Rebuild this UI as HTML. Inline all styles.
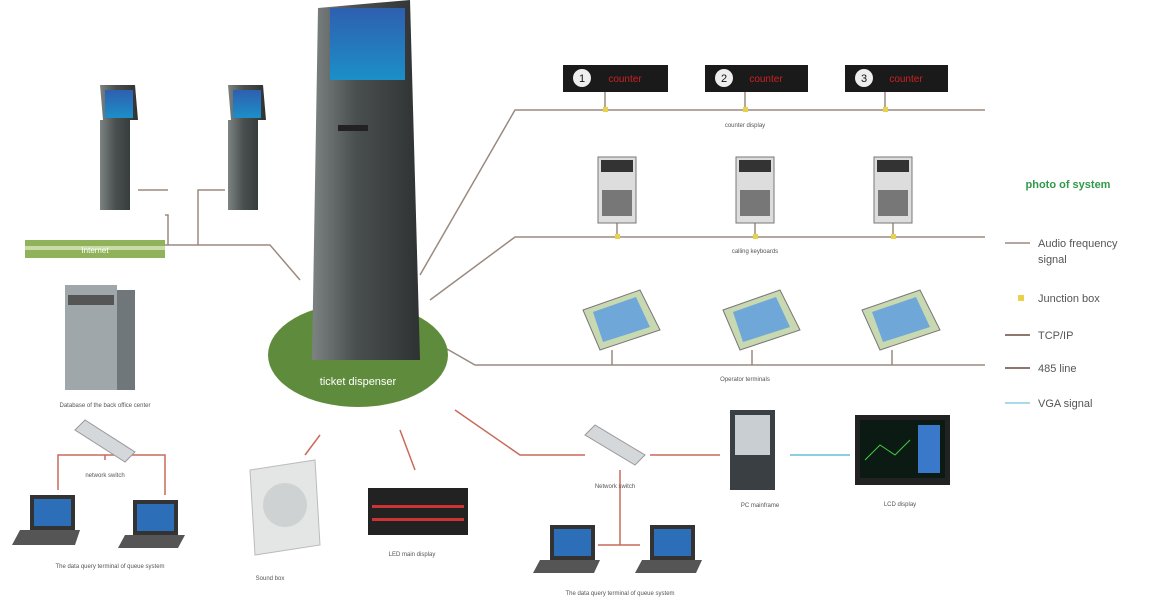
<!DOCTYPE html>
<html><head><meta charset="utf-8"><style>
body{margin:0;background:#fff;width:1151px;height:600px;overflow:hidden;font-family:"Liberation Sans",sans-serif}
svg text{font-family:"Liberation Sans",sans-serif}
</style></head><body>
<svg width="1151" height="600" viewBox="0 0 1151 600">
<defs>
<linearGradient id="k" x1="0" x2="1"><stop offset="0" stop-color="#7d8283"/><stop offset=".4" stop-color="#4a4f50"/><stop offset="1" stop-color="#2e3233"/></linearGradient>
<linearGradient id="scr" x1="0" y1="0" x2="0" y2="1"><stop offset="0" stop-color="#2f5fb0"/><stop offset="1" stop-color="#1b8fc8"/></linearGradient>
</defs>
<!-- lines -->
<g stroke="#9a8a80" stroke-width="1.5" fill="none">
<path d="M165 215 H168 V245 M198 245 V190 H225"/>
<path d="M138 190 H168 M165 245 H270 L300 280"/>
<path d="M420 275 L515 110 H985"/>
<path d="M430 300 L515 237 H985"/>
<path d="M440 345 L475 365 H985"/>
</g>
<g stroke="#c96a5a" stroke-width="1.5" fill="none">
<path d="M455 410 L520 455 H585"/><path d="M650 455 H720"/>
<path d="M620 470 V545 M598 545 H640"/>
<path d="M400 430 L415 470 M320 435 L305 455"/>
<path d="M105 460 V455 H58 V490 M105 455 H165 V495"/>
</g>
<path d="M790 455 H850" stroke="#8ccfe0" stroke-width="2"/>
<g stroke="#9a8a80" stroke-width="1.5"><path d="M605 92 V110 M745 92 V110 M885 92 V110 M617 223 V237 M755 223 V237 M893 223 V237 M612 350 V365 M752 350 V365 M892 350 V365"/></g>
<g fill="#e8d24a"><rect x="603" y="107" width="5" height="5"/><rect x="743" y="107" width="5" height="5"/><rect x="883" y="107" width="5" height="5"/><rect x="615" y="234" width="5" height="5"/><rect x="753" y="234" width="5" height="5"/><rect x="891" y="234" width="5" height="5"/></g>
<!-- internet bar -->
<rect x="25" y="240" width="140" height="18" fill="#8fb25a"/><rect x="25" y="246" width="140" height="4" fill="#c9dca8"/>
<text x="95" y="253" font-size="8" fill="#fff" text-anchor="middle">Internet</text>
<!-- ellipse -->
<ellipse cx="358" cy="355" rx="90" ry="52" fill="#5e8c3c"/>
<!-- big kiosk -->
<path d="M318 8 L410 0 L420 360 L312 360 Z" fill="url(#k)"/>
<rect x="330" y="8" width="75" height="72" fill="url(#scr)"/>
<rect x="338" y="125" width="30" height="6" fill="#222"/>
<text x="358" y="385" font-size="11" fill="#fff" text-anchor="middle">ticket dispenser</text>
<!-- small kiosks -->
<g fill="url(#k)"><path d="M100 85 H135 L138 120 H130 V210 H100 V120 H103 Z"/><path d="M228 85 H263 L266 120 H258 V210 H228 V120 H231 Z"/></g>
<rect x="105" y="90" width="28" height="28" fill="url(#scr)"/><rect x="233" y="90" width="28" height="28" fill="url(#scr)"/>
<!-- server -->
<rect x="65" y="285" width="52" height="105" fill="#9fa7ab"/><rect x="117" y="290" width="18" height="100" fill="#6f777b"/><rect x="68" y="295" width="46" height="10" fill="#555"/>
<text x="105" y="407" font-size="6" fill="#555" text-anchor="middle">Database of the back office center</text>
<!-- switch -->
<path d="M75 430 L85 420 L135 452 L125 462 Z" fill="#d5d8da" stroke="#999"/>
<text x="105" y="477" font-size="6" fill="#555" text-anchor="middle">network switch</text>
<!-- laptops -->
<g>
<rect x="30" y="495" width="45" height="35" fill="#333"/><rect x="34" y="499" width="37" height="27" fill="#2c6fb8"/><path d="M20 530 H80 L75 545 H12 Z" fill="#555"/>
<rect x="133" y="500" width="45" height="35" fill="#333"/><rect x="137" y="504" width="37" height="27" fill="#2c6fb8"/><path d="M125 535 H185 L178 548 H118 Z" fill="#555"/>
<rect x="550" y="525" width="45" height="35" fill="#333"/><rect x="554" y="529" width="37" height="27" fill="#2c6fb8"/><path d="M540 560 H600 L594 573 H533 Z" fill="#555"/>
<rect x="650" y="525" width="45" height="35" fill="#333"/><rect x="654" y="529" width="37" height="27" fill="#2c6fb8"/><path d="M642 560 H702 L696 573 H635 Z" fill="#555"/>
</g>
<text x="110" y="568" font-size="6" fill="#555" text-anchor="middle">The data query terminal of queue system</text>
<text x="620" y="595" font-size="6" fill="#555" text-anchor="middle">The data query terminal of queue system</text>
<!-- speaker -->
<path d="M250 470 L315 460 L320 545 L255 555 Z" fill="#e4e6e6" stroke="#bbb"/><circle cx="285" cy="505" r="22" fill="#cfd2d2"/>
<text x="270" y="580" font-size="6" fill="#555" text-anchor="middle">Sound box</text>
<!-- led -->
<rect x="368" y="488" width="100" height="47" fill="#222"/><rect x="372" y="505" width="92" height="3" fill="#c33"/><rect x="372" y="518" width="92" height="3" fill="#c33"/>
<text x="412" y="556" font-size="6" fill="#555" text-anchor="middle">LED main display</text>
<!-- top displays -->
<g>
<rect x="563" y="65" width="105" height="27" fill="#1a1a1a"/><circle cx="582" cy="78" r="9" fill="#eee"/><text x="582" y="82" font-size="11" text-anchor="middle" fill="#111">1</text><text x="625" y="82" font-size="10" fill="#c22" text-anchor="middle">counter</text>
<rect x="705" y="65" width="103" height="27" fill="#1a1a1a"/><circle cx="724" cy="78" r="9" fill="#eee"/><text x="724" y="82" font-size="11" text-anchor="middle" fill="#111">2</text><text x="766" y="82" font-size="10" fill="#c22" text-anchor="middle">counter</text>
<rect x="845" y="65" width="103" height="27" fill="#1a1a1a"/><circle cx="864" cy="78" r="9" fill="#eee"/><text x="864" y="82" font-size="11" text-anchor="middle" fill="#111">3</text><text x="906" y="82" font-size="10" fill="#c22" text-anchor="middle">counter</text>
</g>
<text x="745" y="127" font-size="6" fill="#555" text-anchor="middle">counter display</text>
<!-- keypads -->
<g fill="#ddd" stroke="#777">
<rect x="598" y="157" width="38" height="66"/><rect x="736" y="157" width="38" height="66"/><rect x="874" y="157" width="38" height="66"/></g>
<g fill="#333"><rect x="601" y="160" width="32" height="12"/><rect x="739" y="160" width="32" height="12"/><rect x="877" y="160" width="32" height="12"/>
<rect x="602" y="190" width="30" height="26" opacity=".6"/><rect x="740" y="190" width="30" height="26" opacity=".6"/><rect x="878" y="190" width="30" height="26" opacity=".6"/></g>
<text x="755" y="253" font-size="6" fill="#555" text-anchor="middle">calling keyboards</text>
<!-- monitors -->
<g>
<path d="M583 310 L640 290 L660 330 L600 350 Z" fill="#c8d8b0" stroke="#777"/><path d="M593 312 L636 297 L650 327 L603 342 Z" fill="#6fa8d8"/>
<path d="M723 310 L780 290 L800 330 L740 350 Z" fill="#c8d8b0" stroke="#777"/><path d="M733 312 L776 297 L790 327 L743 342 Z" fill="#6fa8d8"/>
<path d="M862 310 L920 290 L940 330 L880 350 Z" fill="#c8d8b0" stroke="#777"/><path d="M872 312 L916 297 L930 327 L883 342 Z" fill="#6fa8d8"/>
</g>
<text x="745" y="381" font-size="6" fill="#555" text-anchor="middle">Operator terminals</text>
<!-- switch 2 -->
<path d="M585 435 L595 425 L645 455 L635 465 Z" fill="#d5d8da" stroke="#999"/>
<text x="615" y="488" font-size="6" fill="#555" text-anchor="middle">Network switch</text>
<!-- PC -->
<rect x="730" y="410" width="45" height="80" fill="#3a3f44"/><rect x="735" y="415" width="35" height="40" fill="#c9ced2"/>
<text x="760" y="507" font-size="6" fill="#555" text-anchor="middle">PC mainframe</text>
<!-- LCD -->
<rect x="855" y="415" width="95" height="70" fill="#222"/><rect x="860" y="420" width="85" height="58" fill="#0b1a12"/><rect x="918" y="425" width="22" height="48" fill="#3a78c9"/><path d="M865 460 L880 445 L895 455 L910 440" stroke="#4c4" fill="none"/>
<text x="900" y="506" font-size="6" fill="#555" text-anchor="middle">LCD display</text>
<!-- legend -->
<text x="1068" y="188" font-size="11" font-weight="bold" fill="#2f9a4a" text-anchor="middle">photo of system</text>
<g stroke-width="1.5"><path d="M1005 243 H1030" stroke="#9a8a80"/><path d="M1005 335 H1030" stroke="#6a4a40"/><path d="M1005 368 H1030" stroke="#6a4a40"/><path d="M1005 403 H1030" stroke="#8ccfe0"/></g>
<rect x="1018" y="295" width="6" height="6" fill="#e8d24a"/>
<g font-size="11" fill="#555"><text x="1038" y="247">Audio frequency</text><text x="1038" y="263">signal</text><text x="1038" y="302">Junction box</text><text x="1038" y="339">TCP/IP</text><text x="1038" y="372">485 line</text><text x="1038" y="407">VGA signal</text></g>
</svg>
</body></html>
